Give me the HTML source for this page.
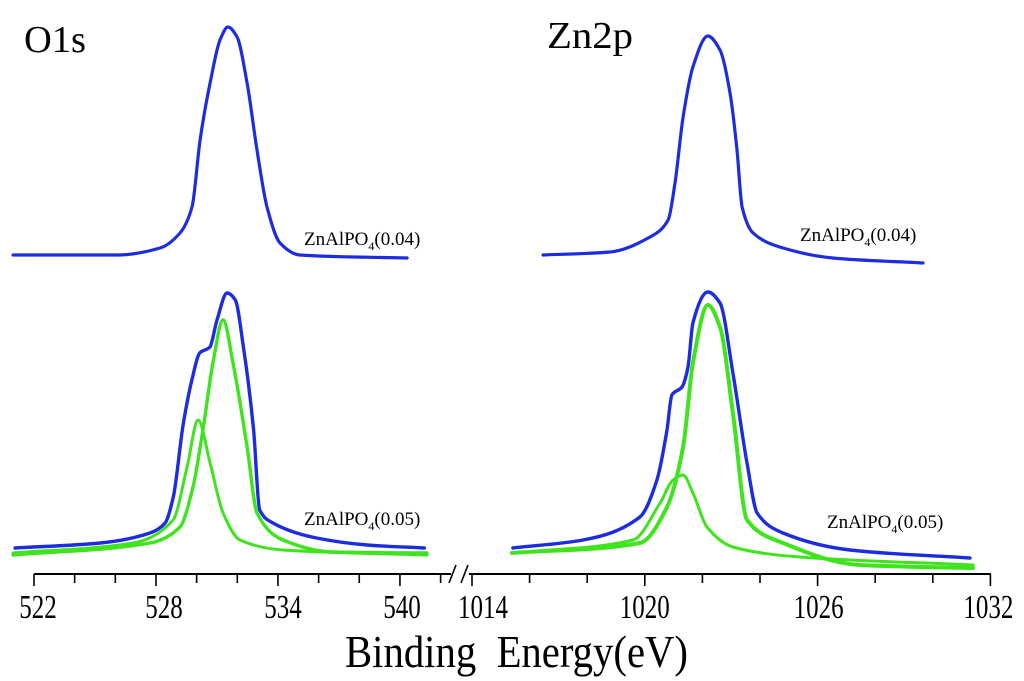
<!DOCTYPE html>
<html><head><meta charset="utf-8"><style>
html,body{margin:0;padding:0;background:#fff;}
svg{display:block;font-family:"Liberation Serif",serif;}
</style></head><body>
<svg id="chart" width="1024" height="681" viewBox="0 0 1024 681" xmlns="http://www.w3.org/2000/svg">
<text x="24" y="52" font-size="38" textLength="62" lengthAdjust="spacingAndGlyphs">O1s</text>
<text x="547" y="48" font-size="38" textLength="86" lengthAdjust="spacingAndGlyphs">Zn2p</text>
<text x="304" y="245" font-size="19">ZnAlPO<tspan font-size="12" dy="5">4</tspan><tspan dy="-5">(0.04)</tspan></text>
<text x="800" y="241" font-size="19">ZnAlPO<tspan font-size="12" dy="5">4</tspan><tspan dy="-5">(0.04)</tspan></text>
<text x="304" y="525" font-size="19">ZnAlPO<tspan font-size="12" dy="5">4</tspan><tspan dy="-5">(0.05)</tspan></text>
<text x="827" y="528" font-size="19">ZnAlPO<tspan font-size="12" dy="5">4</tspan><tspan dy="-5">(0.05)</tspan></text>
<g id="axis"></g>
<g id="curves"></g>
<text x="345" y="667" font-size="46" textLength="343" lengthAdjust="spacingAndGlyphs">Binding&#160;&#160;Energy(eV)</text>
</svg>
<script>
// Tick values
const oTicks = [522, 524, 526, 528, 530, 532, 534, 536, 538, 540, 542];
const oLabels = [522, 528, 534, 540];
const zTicks = [1014, 1016, 1018, 1020, 1022, 1024, 1026, 1028, 1030, 1032];
const zLabels = [1014, 1020, 1026, 1032];

// O1s top (0.04)
const o1sTopE = [520.97, 526.08, 528.2, 529.18, 529.77, 530.17, 530.66, 531.15, 531.54, 531.99, 532.48, 532.97, 533.46, 534.1, 535.08, 540.35];
const o1sTopI = [5, 5, 12, 27, 53, 120, 177, 220, 233, 223, 177, 110, 53, 17, 5, 2];
// O1s bottom (0.05) envelope
const o1sBotE = [521.07, 525.25, 527.7, 528.45, 528.85, 529.35, 529.8, 530.15, 530.65, 531.0, 531.5, 531.9, 532.3, 532.8, 533.1, 533.75, 535.9, 538.4, 541.2];
const o1sBotI = [12, 17, 27, 37, 63, 137, 183, 207, 213, 240, 267, 260, 213, 130, 50, 37, 22, 15, 12];
// O1s fitted component 1 (main)
const o1sC1E = [520.97, 527.71, 529.18, 529.82, 530.31, 530.80, 531.30, 531.79, 532.48, 532.97, 534.25, 536.71, 541.33];
const o1sC1I = [5, 17, 33, 73, 130, 197, 240, 197, 113, 47, 20, 8, 7];
// O1s fitted component 2
const o1sC2E = [520.97, 526.87, 528.84, 529.53, 530.07, 530.66, 531.30, 532.13, 534.25, 541.33];
const o1sC2I = [7, 17, 40, 93, 140, 97, 47, 20, 10, 5];

// Zn2p top (0.04)
const znTopE = [1016.47, 1018.79, 1020.18, 1020.81, 1021.05, 1021.33, 1021.67, 1022.19, 1022.61, 1022.96, 1023.2, 1023.38, 1023.76, 1024.8, 1026.53, 1029.66];
const znTopI = [15, 18, 33, 50, 87, 153, 203, 234, 220, 177, 120, 63, 37, 22, 12, 7];
// Zn2p bottom envelope
const znBotE = [1015.42, 1017.85, 1019.83, 1020.42, 1020.77, 1020.94, 1021.29, 1021.5, 1021.67, 1022.19, 1022.61, 1023.06, 1023.55, 1023.9, 1024.8, 1027.13, 1031.29];
const znBotI = [27, 35, 58, 95, 145, 180, 188, 208, 252, 283, 272, 202, 112, 62, 42, 25, 17];
// Zn2p component 1
const znC1E = [1015.39, 1019.83, 1020.77, 1021.33, 1021.67, 1022.19, 1022.61, 1023.06, 1023.55, 1024.8, 1027.47, 1031.4];
const znC1I = [22, 32, 68, 128, 212, 270, 248, 162, 55, 32, 10, 7];
// Zn2p component 2
const znC2E = [1015.39, 1019.59, 1020.53, 1020.98, 1021.33, 1021.67, 1022.16, 1023.06, 1025.39, 1031.4];
const znC2I = [22, 35, 72, 95, 100, 82, 48, 28, 18, 10];

const NS = "http://www.w3.org/2000/svg";
const xO = e => 34 + (e - 522) * 20.33;
const xZ = e => 472 + (e - 1014) * 28.8;
const yAt = base => v => base - v;
const axisY = 574;

function mk(tag, attrs, parent) {
  const el = document.createElementNS(NS, tag);
  for (const k in attrs) el.setAttribute(k, attrs[k]);
  parent.appendChild(el);
  return el;
}
// Monotone cubic (Fritsch-Carlson) through points with increasing x
function smooth(pts) {
  const n = pts.length;
  const dx = [], m = [], s = [];
  for (let i = 0; i < n - 1; i++) { dx[i] = pts[i+1][0] - pts[i][0]; s[i] = (pts[i+1][1] - pts[i][1]) / dx[i]; }
  m[0] = s[0]; m[n-1] = s[n-2];
  for (let i = 1; i < n - 1; i++) {
    if (s[i-1] * s[i] <= 0) m[i] = 0;
    else { const w1 = 2*dx[i] + dx[i-1], w2 = dx[i] + 2*dx[i-1]; m[i] = (w1 + w2) / (w1 / s[i-1] + w2 / s[i]); }
  }
  let d = "M" + pts[0][0].toFixed(1) + "," + pts[0][1].toFixed(1);
  for (let i = 0; i < n - 1; i++) {
    const h = dx[i] / 3;
    d += " C" + (pts[i][0] + h).toFixed(1) + "," + (pts[i][1] + m[i]*h).toFixed(1) + " " +
         (pts[i+1][0] - h).toFixed(1) + "," + (pts[i+1][1] - m[i+1]*h).toFixed(1) + " " +
         pts[i+1][0].toFixed(1) + "," + pts[i+1][1].toFixed(1);
  }
  return d;
}
const curves = document.getElementById("curves");
function drawCurve(E, I, xf, yf, color, w, name) {
  const pts = E.map((e, i) => [xf(e), yf(I[i])]);
  const p = mk("path", {d: smooth(pts), fill: "none", stroke: color, "stroke-width": w, "stroke-linejoin": "round", "stroke-linecap": "round"}, curves);
  
  
}
const BLUE = "#1c2de0", GREEN = "#3fe31e";
drawCurve(o1sTopE, o1sTopI, xO, yAt(260), BLUE, 3.2, "o1s-004-curve");
drawCurve(o1sC2E, o1sC2I, xO, yAt(560), GREEN, 3, "o1s-005-component-2");
drawCurve(o1sC1E, o1sC1I, xO, yAt(560), GREEN, 3.4, "o1s-005-component-1");
drawCurve(o1sBotE, o1sBotI, xO, yAt(560), BLUE, 3.4, "o1s-005-envelope");
drawCurve(znTopE, znTopI, xZ, yAt(270), BLUE, 3.2, "zn2p-004-curve");
drawCurve(znC2E, znC2I, xZ, yAt(575), GREEN, 3, "zn2p-005-component-2");
drawCurve(znC1E, znC1I, xZ, yAt(575), GREEN, 4, "zn2p-005-component-1");
drawCurve(znBotE, znBotI, xZ, yAt(575), BLUE, 3.4, "zn2p-005-envelope");

const axis = document.getElementById("axis");
const line = mk("line", {x1: 34, y1: axisY, x2: 991, y2: axisY, stroke: "#000", "stroke-width": 2}, axis);


function ticks(vals, labels, xf, grp, off) {
  vals.forEach(v => {
    const major = labels.includes(v);
    const t = mk("line", {x1: xf(v), y1: axisY, x2: xf(v), y2: axisY + (major ? 12 : 9), stroke: "#000", "stroke-width": 1.6}, axis);
    
    
  });
  labels.forEach((v, i) => {
    const tx = mk("text", {x: xf(v) + off[i], y: 618, "font-size": 34, "text-anchor": "middle", textLength: String(v).length * 12.5, lengthAdjust: "spacingAndGlyphs"}, axis);
    tx.textContent = v;
    
    
  });
}
ticks(oTicks, oLabels, xO, "o1s", [4, 8, 5, 2]);
ticks(zTicks, zLabels, xZ, "zn2p", [11, 0, 1, -2]);
const br = mk("g", {}, axis);


mk("rect", {x: 451, y: axisY - 3, width: 18, height: 6, fill: "#fff"}, br);
mk("line", {x1: 449, y1: axisY + 9, x2: 456, y2: axisY - 9, stroke: "#000", "stroke-width": 1.6}, br);
mk("line", {x1: 461, y1: axisY + 9, x2: 468, y2: axisY - 9, stroke: "#000", "stroke-width": 1.6}, br);
</script>
</body></html>
